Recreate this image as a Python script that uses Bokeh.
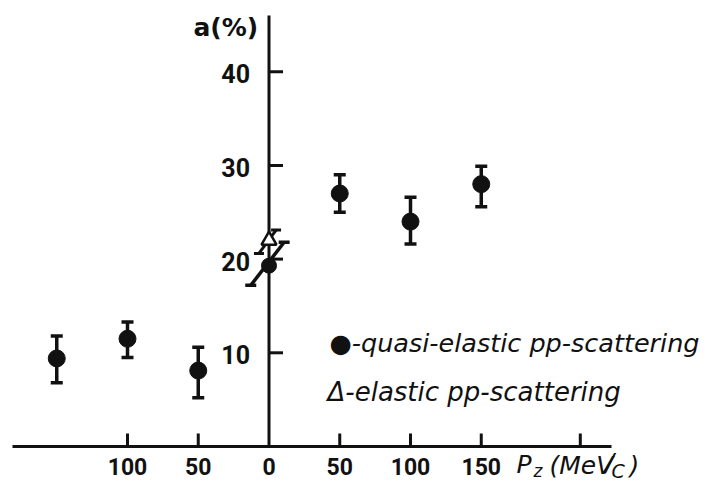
import numpy as np
from bokeh.plotting import figure
from bokeh.models import Range1d, Label
from bokeh.core.properties import value
from bokeh.embed import file_html
from bokeh.resources import INLINE

# ---------------- data ----------------
# quasi-elastic pp-scattering (filled circles)
pz = [-150, -100, -50, 50, 100, 150]
a_val = [9.4, 11.5, 8.1, 27.0, 24.0, 28.0]
a_hi = [11.8, 13.3, 10.6, 29.0, 26.6, 29.9]
a_lo = [6.8, 9.5, 5.2, 25.0, 21.6, 25.6]

# quasi-elastic point at Pz = 0 (error bar drawn slanted in the original figure)
c_pz = [0]
c_val = [19.3]
c_lo_x = [-12.9]
c_lo_y = [17.2]
c_hi_x = [10.7]
c_hi_y = [21.8]

# elastic pp-scattering (open triangle)
t_pz = [0]
t_val = [22.0]
t_lo_x = [-7.1]
t_lo_y = [20.6]
t_hi_x = [5.0]
t_hi_y = [23.1]

x_ticks = [-100, -50, 50, 100, 150, 220]
x_label_pos = [-100, -50, 0, 50, 100, 150]
x_labels = ["100", "50", "0", "50", "100", "150"]
y_ticks = [10, 20, 30, 40]
y_labels = ["10", "20", "30", "40"]

# ---------------- geometry ----------------
W, H = 706, 481
X0PX, XS = 268.5, 1.415
Y0PX, YS = 446.0, 9.37


def dx(img_x):
    return (img_x - X0PX) / XS


def dy(img_y):
    return (Y0PX - img_y) / YS


p = figure(width=W, height=H, output_backend="svg", toolbar_location=None,
           x_range=Range1d(-X0PX / XS, (W - X0PX) / XS),
           y_range=Range1d(-(H - Y0PX) / YS, Y0PX / YS),
           x_axis_type=None, y_axis_type=None, min_border=0)
p.grid.visible = False
p.outline_line_color = None
p.background_fill_color = "white"
p.border_fill_color = "white"

INK = "#111111"
NUM_FONT = value("Roboto")
TXT_FONT = "DejaVu Sans"

# axes lines
p.segment(x0=[dx(12)], y0=[0], x1=[dx(611)], y1=[0], line_color=INK, line_width=3)
p.segment(x0=[0], y0=[0], x1=[0], y1=[dy(15)], line_color=INK, line_width=3)

# ticks
p.ray(x=x_ticks, y=[0] * len(x_ticks), length=13, length_units="screen",
      angle=np.pi / 2, line_color=INK, line_width=3)
p.ray(x=[0] * len(y_ticks), y=y_ticks, length=14, length_units="screen",
      angle=0, line_color=INK, line_width=3)

# tick labels
p.text(x=x_label_pos, y=[0] * len(x_label_pos), text=x_labels,
       y_offset=20, text_align="center", text_baseline="middle",
       text_font=NUM_FONT, text_font_size=value("23px"), text_font_style="bold",
       text_color=INK)
p.text(x=[0] * len(y_ticks), y=y_ticks, text=y_labels,
       x_offset=-19, y_offset=2, text_align="right", text_baseline="middle",
       text_font=NUM_FONT, text_font_size=value("25px"), text_font_style="bold",
       text_color=INK)

# error bars
p.segment(x0=pz, y0=a_lo, x1=pz, y1=a_hi, line_color=INK, line_width=3.5)
p.scatter(x=pz + pz, y=a_lo + a_hi, marker="dash", size=12, line_width=3.5,
          line_color=INK)
p.segment(x0=c_lo_x, y0=c_lo_y, x1=c_hi_x, y1=c_hi_y, line_color=INK, line_width=3.5)
p.scatter(x=c_lo_x + c_hi_x, y=c_lo_y + c_hi_y, marker="dash", size=11,
          line_width=3.5, line_color=INK)
p.segment(x0=t_lo_x, y0=t_lo_y, x1=t_hi_x, y1=t_hi_y, line_color=INK, line_width=3)
p.scatter(x=t_lo_x + t_hi_x, y=t_lo_y + t_hi_y, marker="dash", size=10,
          line_width=3, line_color=INK)

# markers
p.scatter(x=pz, y=a_val, marker="circle", size=17, fill_color=INK, line_color=INK)
p.scatter(x=c_pz, y=c_val, marker="circle", size=15, fill_color=INK, line_color=INK)
p.scatter(x=t_pz, y=t_val, marker="triangle", size=15, fill_color="white",
          line_color=INK, line_width=2.5)

# axis titles
p.add_layout(Label(x=dx(193), y=dy(27), text="a(%)", text_font=TXT_FONT,
                   text_font_style="bold", text_font_size="25px",
                   text_baseline="middle", text_color=INK))


def tlabel(img_x, img_y, txt, size):
    p.add_layout(Label(x=dx(img_x), y=dy(img_y), text=txt, text_font=TXT_FONT,
                       text_font_style="italic", text_font_size=size,
                       text_baseline="middle", text_color=INK))


tlabel(516, 464, "P", "25px")
tlabel(533, 470, "z", "17px")
tlabel(549, 465, "(MeV", "25px")
tlabel(605, 462, "/", "25px")
tlabel(611, 470, "C", "19px")
tlabel(629, 465, ")", "25px")

# legend texts
p.add_layout(Label(x=dx(329), y=dy(342), text="●-quasi-elastic pp-scattering",
                   text_font=TXT_FONT, text_font_style="italic",
                   text_font_size="25.5px", text_baseline="middle", text_color=INK))
p.add_layout(Label(x=dx(327), y=dy(391), text="Δ-elastic  pp-scattering",
                   text_font=TXT_FONT, text_font_style="italic",
                   text_font_size="26px", text_baseline="middle", text_color=INK))

open("out.html", "w").write(file_html(p, INLINE))
